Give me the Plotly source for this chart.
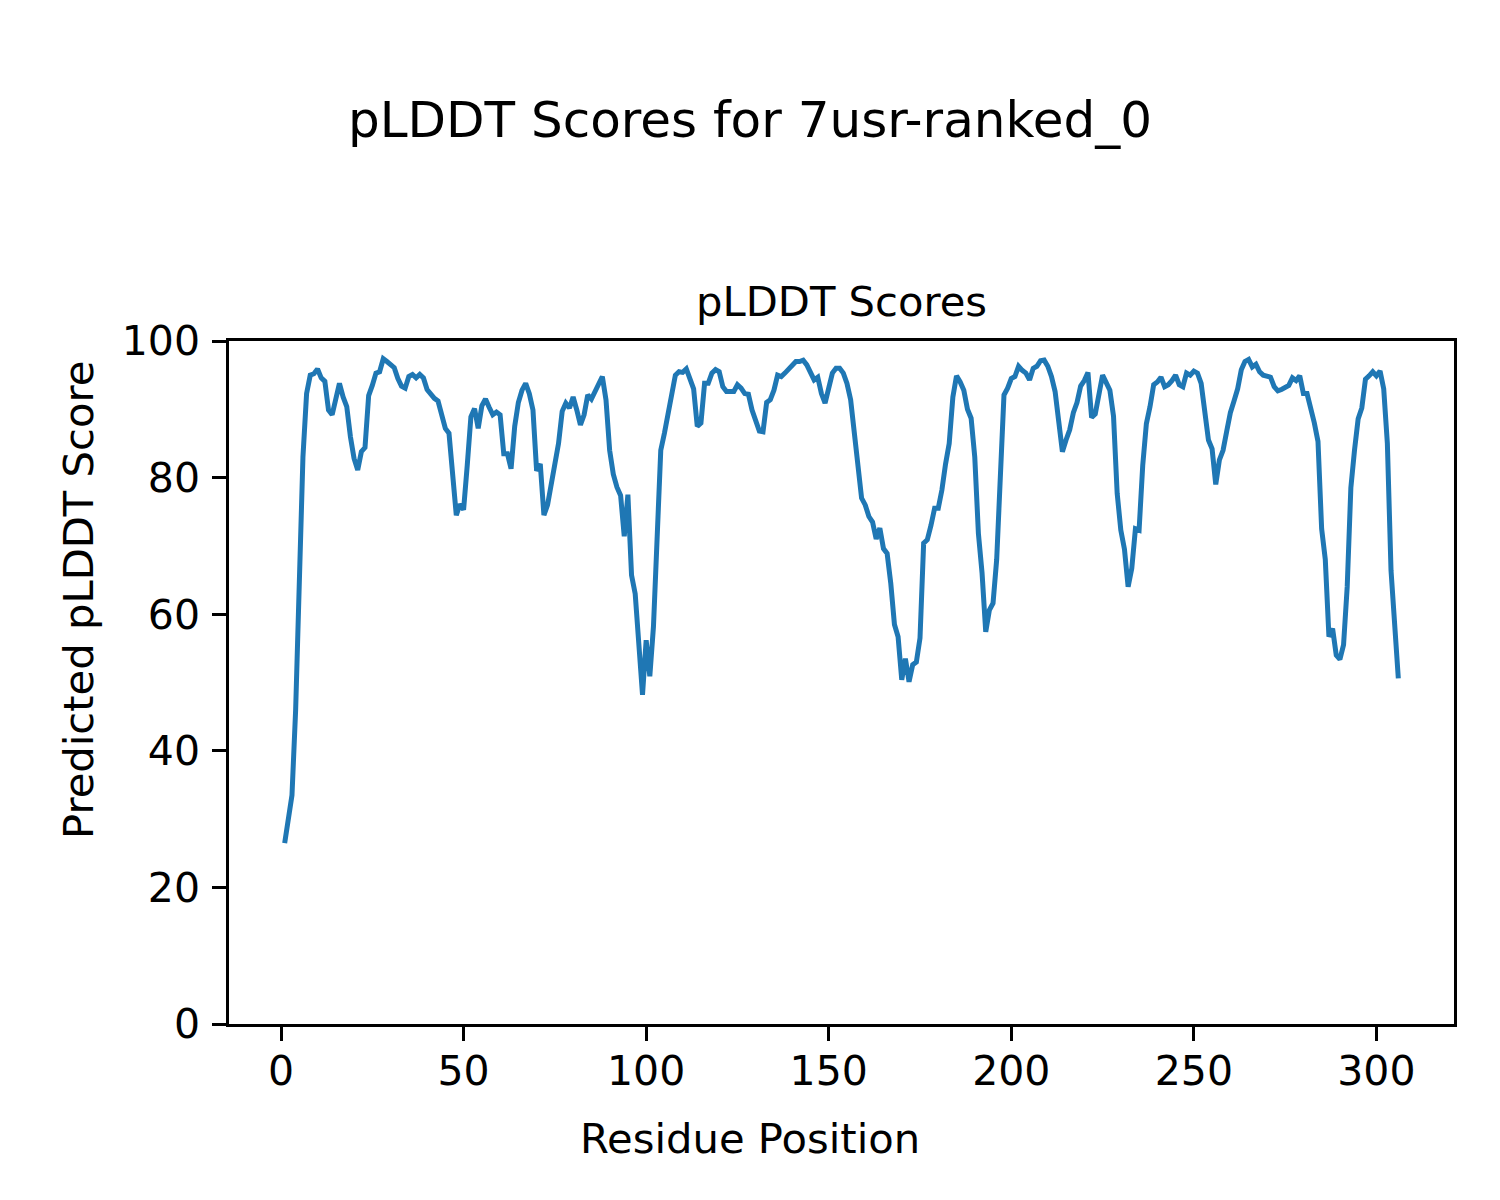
import plotly.graph_objects as go

residues = list(range(1, 307))
plddt = [
    26.5, 30.0, 33.5, 46.0, 63.0, 83.0, 92.3, 95.0, 95.2, 95.9,
    94.6, 94.1, 89.9, 89.2, 91.5, 93.8, 91.8, 90.4, 86.0, 82.8,
    81.1, 83.8, 84.4, 92.0, 93.5, 95.3, 95.5, 97.4, 97.0, 96.6,
    96.1, 94.5, 93.4, 93.1, 94.8, 95.1, 94.6, 95.1, 94.6, 92.9,
    92.2, 91.6, 91.2, 89.5, 87.2, 86.5, 81.0, 74.5, 76.1, 75.3,
    81.8, 88.9, 90.1, 87.2, 90.5, 91.5, 90.3, 89.2, 89.6, 89.2,
    83.5, 83.5, 81.3, 87.5, 91.0, 92.8, 93.8, 92.3, 89.9, 81.0,
    82.0, 74.5, 76.0, 79.2, 82.0, 85.0, 89.7, 90.9, 90.2, 91.8,
    89.9, 87.7, 89.2, 92.1, 91.5, 92.5, 93.8, 94.8, 91.4, 84.0,
    80.5, 78.6, 77.4, 71.4, 77.5, 65.7, 63.0, 54.3, 48.2, 56.2,
    50.9, 58.2, 71.0, 84.0, 86.5, 89.4, 92.8, 95.0, 95.5, 95.4,
    95.9, 94.5, 93.0, 87.5, 88.0, 93.8, 93.8, 95.3, 95.8, 95.5,
    93.3, 92.6, 92.6, 92.6, 93.6, 93.1, 92.3, 92.2, 89.9, 88.4,
    86.8, 86.7, 91.0, 91.4, 92.8, 95.0, 94.8, 95.3, 95.8, 96.3,
    97.0, 97.0, 97.2, 96.5, 95.5, 94.3, 94.7, 92.3, 90.9, 92.8,
    95.3, 96.0, 96.0, 95.3, 93.8, 91.4, 87.0, 82.0, 77.0, 76.0,
    74.3, 73.5, 71.0, 72.6, 69.6, 68.9, 64.5, 58.5, 56.7, 50.4,
    53.5, 50.1, 52.6, 53.0, 56.5, 70.4, 70.9, 73.0, 75.5, 75.5,
    78.2, 82.0, 85.0, 91.8, 94.9, 94.0, 92.8, 90.0, 88.7, 83.0,
    71.8, 66.0, 57.4, 60.6, 61.6, 68.0, 81.7, 92.1, 93.1, 94.5,
    94.8, 96.3, 95.7, 95.3, 94.3, 96.0, 96.3, 97.1, 97.2, 96.3,
    94.8, 92.6, 88.2, 83.8, 85.5, 87.0, 89.5, 91.0, 93.4, 94.2,
    95.4, 88.8, 89.3, 92.6, 95.0, 93.9, 92.8, 89.0, 77.7, 72.3,
    69.5, 64.0, 66.7, 72.5, 72.3, 81.8, 87.9, 90.4, 93.6, 94.0,
    94.7, 93.3, 93.6, 94.2, 95.0, 93.6, 93.3, 95.3, 95.0, 95.6,
    95.3, 93.8, 89.7, 85.5, 84.2, 79.0, 82.6, 84.0, 86.8, 89.5,
    91.2, 93.0, 95.8, 97.0, 97.3, 96.2, 96.6, 95.5, 95.0, 94.8,
    94.7, 93.3, 92.7, 92.9, 93.3, 93.5, 94.6, 94.2, 94.9, 92.3,
    92.3, 90.3, 88.0, 85.3, 72.5, 68.0, 56.7, 57.9, 54.0, 53.4,
    55.5, 64.0, 78.5, 84.0, 88.6, 90.2, 94.4, 94.9, 95.5, 94.9,
    95.6, 93.0, 85.0, 66.4, 57.0, 50.6,
]
x_ticks = [0, 50, 100, 150, 200, 250, 300]
y_ticks = [0, 20, 40, 60, 80, 100]

suptitle = "pLDDT Scores for 7usr-ranked_0"
ax_title = "pLDDT Scores"
x_label = "Residue Position"
y_label = "Predicted pLDDT Score"

FONT = "DejaVu Sans"
W, H = 1500, 1200
OFF = 8  # page offset of the figure in the screenshot
# target plot area in screenshot pixels
L, R, T, B = 229, 1454, 341, 1024


def px(xp):
    return (xp - L) / (R - L)


def py(yp):
    return (B - yp) / (B - T)


fig = go.Figure()
fig.add_trace(go.Scatter(
    x=residues, y=plddt, mode="lines",
    line=dict(color="#1f77b4", width=5),
    showlegend=False,
))

axis_common = dict(
    showline=True, linecolor="black", linewidth=2.6, mirror=True,
    ticks="outside", ticklen=14, tickwidth=2.6, tickcolor="black",
    showgrid=False, zeroline=False,
    tickfont=dict(family=FONT, size=41, color="black"),
)

fig.update_xaxes(range=[-14.25, 321.25], tickvals=x_ticks,
                 ticklabelstandoff=-5, **axis_common)
fig.update_yaxes(range=[0, 100], tickvals=y_ticks, ticklabelstandoff=4,
                 **axis_common)

annotations = [
    dict(text=suptitle, x=px(750), y=py(120), xref="paper", yref="paper",
         xanchor="center", yanchor="middle", showarrow=False,
         font=dict(family=FONT, size=50, color="black")),
    dict(text=ax_title, x=px(841.5), y=py(302), xref="paper", yref="paper",
         xanchor="center", yanchor="middle", showarrow=False,
         font=dict(family=FONT, size=41.7, color="black")),
    dict(text=x_label, x=px(750), y=py(1138), xref="paper", yref="paper",
         xanchor="center", yanchor="middle", showarrow=False,
         font=dict(family=FONT, size=41.7, color="black")),
    dict(text=y_label, x=px(78), y=py(600), xref="paper", yref="paper",
         xanchor="center", yanchor="middle", showarrow=False, textangle=-90,
         font=dict(family=FONT, size=41.7, color="black")),
]

fig.update_layout(
    width=W, height=H,
    margin=dict(l=L - OFF, r=W - R + OFF, t=T - OFF, b=H - B + OFF, pad=0),
    paper_bgcolor="white", plot_bgcolor="white",
    annotations=annotations,
    font=dict(family=FONT, color="black"),
)

fig.write_html("out.html")
